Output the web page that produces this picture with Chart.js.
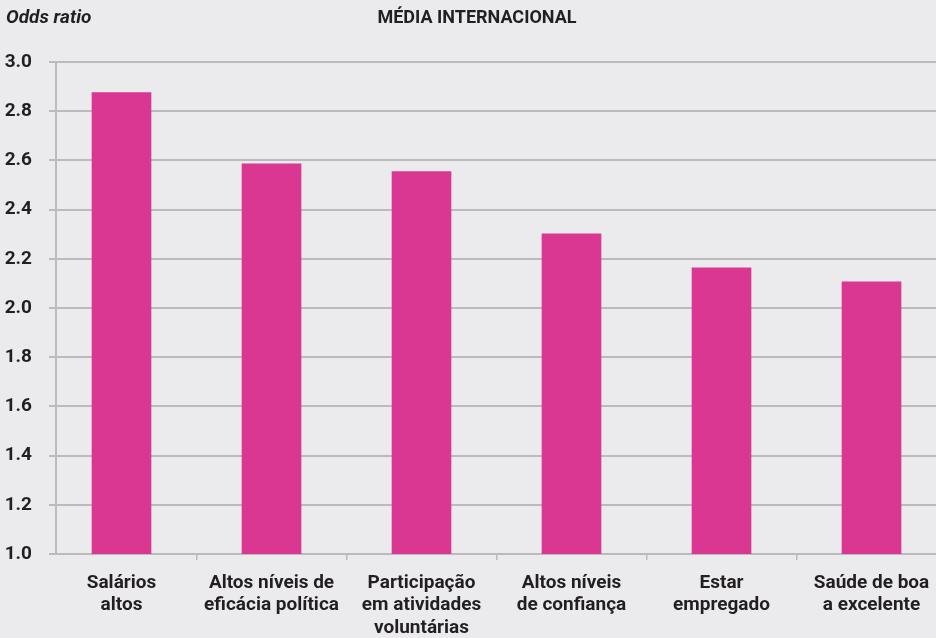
<!DOCTYPE html>
<html>
<head>
<meta charset="utf-8">
<script src="https://cdn.jsdelivr.net/npm/chart.js@4/dist/chart.umd.min.js"></script>
<style>
  html, body { margin: 0; padding: 0; background: #EBEBEE; overflow: hidden; }
  #wrap { width: 936px; height: 638px; overflow: hidden; position: relative; }
  canvas { display: block; }
</style>
</head>
<body>
<div id="wrap"><canvas id="c" width="970" height="638"></canvas></div>
<script>
// ---- data ----
const categories = [
  ["Salários", "altos"],
  ["Altos níveis de", "eficácia política"],
  ["Participação", "em atividades", "voluntárias"],
  ["Altos níveis", "de confiança"],
  ["Estar", "empregado"],
  ["Saúde de boa", "a excelente"]
];
const oddsRatio = [2.876, 2.586, 2.555, 2.302, 2.163, 2.106];
const yTicks = [1.0, 1.2, 1.4, 1.6, 1.8, 2.0, 2.2, 2.4, 2.6, 2.8, 3.0];
const chartTitle = "MÉDIA INTERNACIONAL";
const yAxisTitle = "Odds ratio";

// ---- styles ----
const TEXT = "#231F20";
const GRID = "#BBBBBB";
const BAR = "#DA3792";
const FONT = "Roboto, 'Liberation Sans', sans-serif";

const headerPlugin = {
  id: "header",
  afterDraw(chart) {
    const ctx = chart.ctx;
    ctx.save();
    ctx.fillStyle = TEXT;
    ctx.textBaseline = "middle";
    ctx.font = "italic bold 19px " + FONT;
    ctx.textAlign = "left";
    ctx.fillText(yAxisTitle, 6, 18);
    ctx.font = "bold 18px " + FONT;
    ctx.textAlign = "center";
    ctx.fillText(chartTitle, 477, 18);
    ctx.restore();
  }
};

new Chart(document.getElementById("c"), {
  type: "bar",
  data: {
    datasets: [{
      data: categories.map((c, i) => ({ x: i, y: oddsRatio[i] })),
      backgroundColor: BAR,
      borderWidth: 0,
      barThickness: 59
    }]
  },
  options: {
    responsive: false,
    animation: false,
    layout: { padding: { top: 62, right: 14, left: 0, bottom: 0 } },
    plugins: { legend: { display: false }, tooltip: { enabled: false } },
    scales: {
      x: {
        type: "linear",
        offset: false,
        min: -0.4367,
        max: 5.5633,
        bounds: "data",
        afterBuildTicks(scale) { scale.ticks = categories.map((c, i) => ({ value: i })); },
        afterFit(scale) { scale.height = 84; },
        ticks: {
          autoSkip: false,
          maxRotation: 0,
          minRotation: 0,
          padding: 12,
          color: TEXT,
          font: { family: FONT, size: 19, weight: "bold", lineHeight: 1.18 },
          callback: (v, i) => categories[i]
        },
        grid: {
          offset: true,
          drawOnChartArea: false,
          tickLength: 6,
          color: GRID,
          lineWidth: 1.5
        },
        border: { display: true, color: GRID, width: 2 }
      },
      y: {
        min: 1.0,
        max: 3.0,
        afterBuildTicks(scale) { scale.ticks = yTicks.map(v => ({ value: v })); },
        afterFit(scale) { scale.width = 56; },
        ticks: {
          padding: 17,
          color: TEXT,
          font: { family: FONT, size: 19, weight: "bold" },
          callback: v => Number(v).toFixed(1)
        },
        grid: { color: GRID, lineWidth: 2, tickLength: 7 },
        border: { display: true, color: GRID, width: 2 }
      }
    }
  },
  plugins: [headerPlugin]
});
</script>
</body>
</html>
